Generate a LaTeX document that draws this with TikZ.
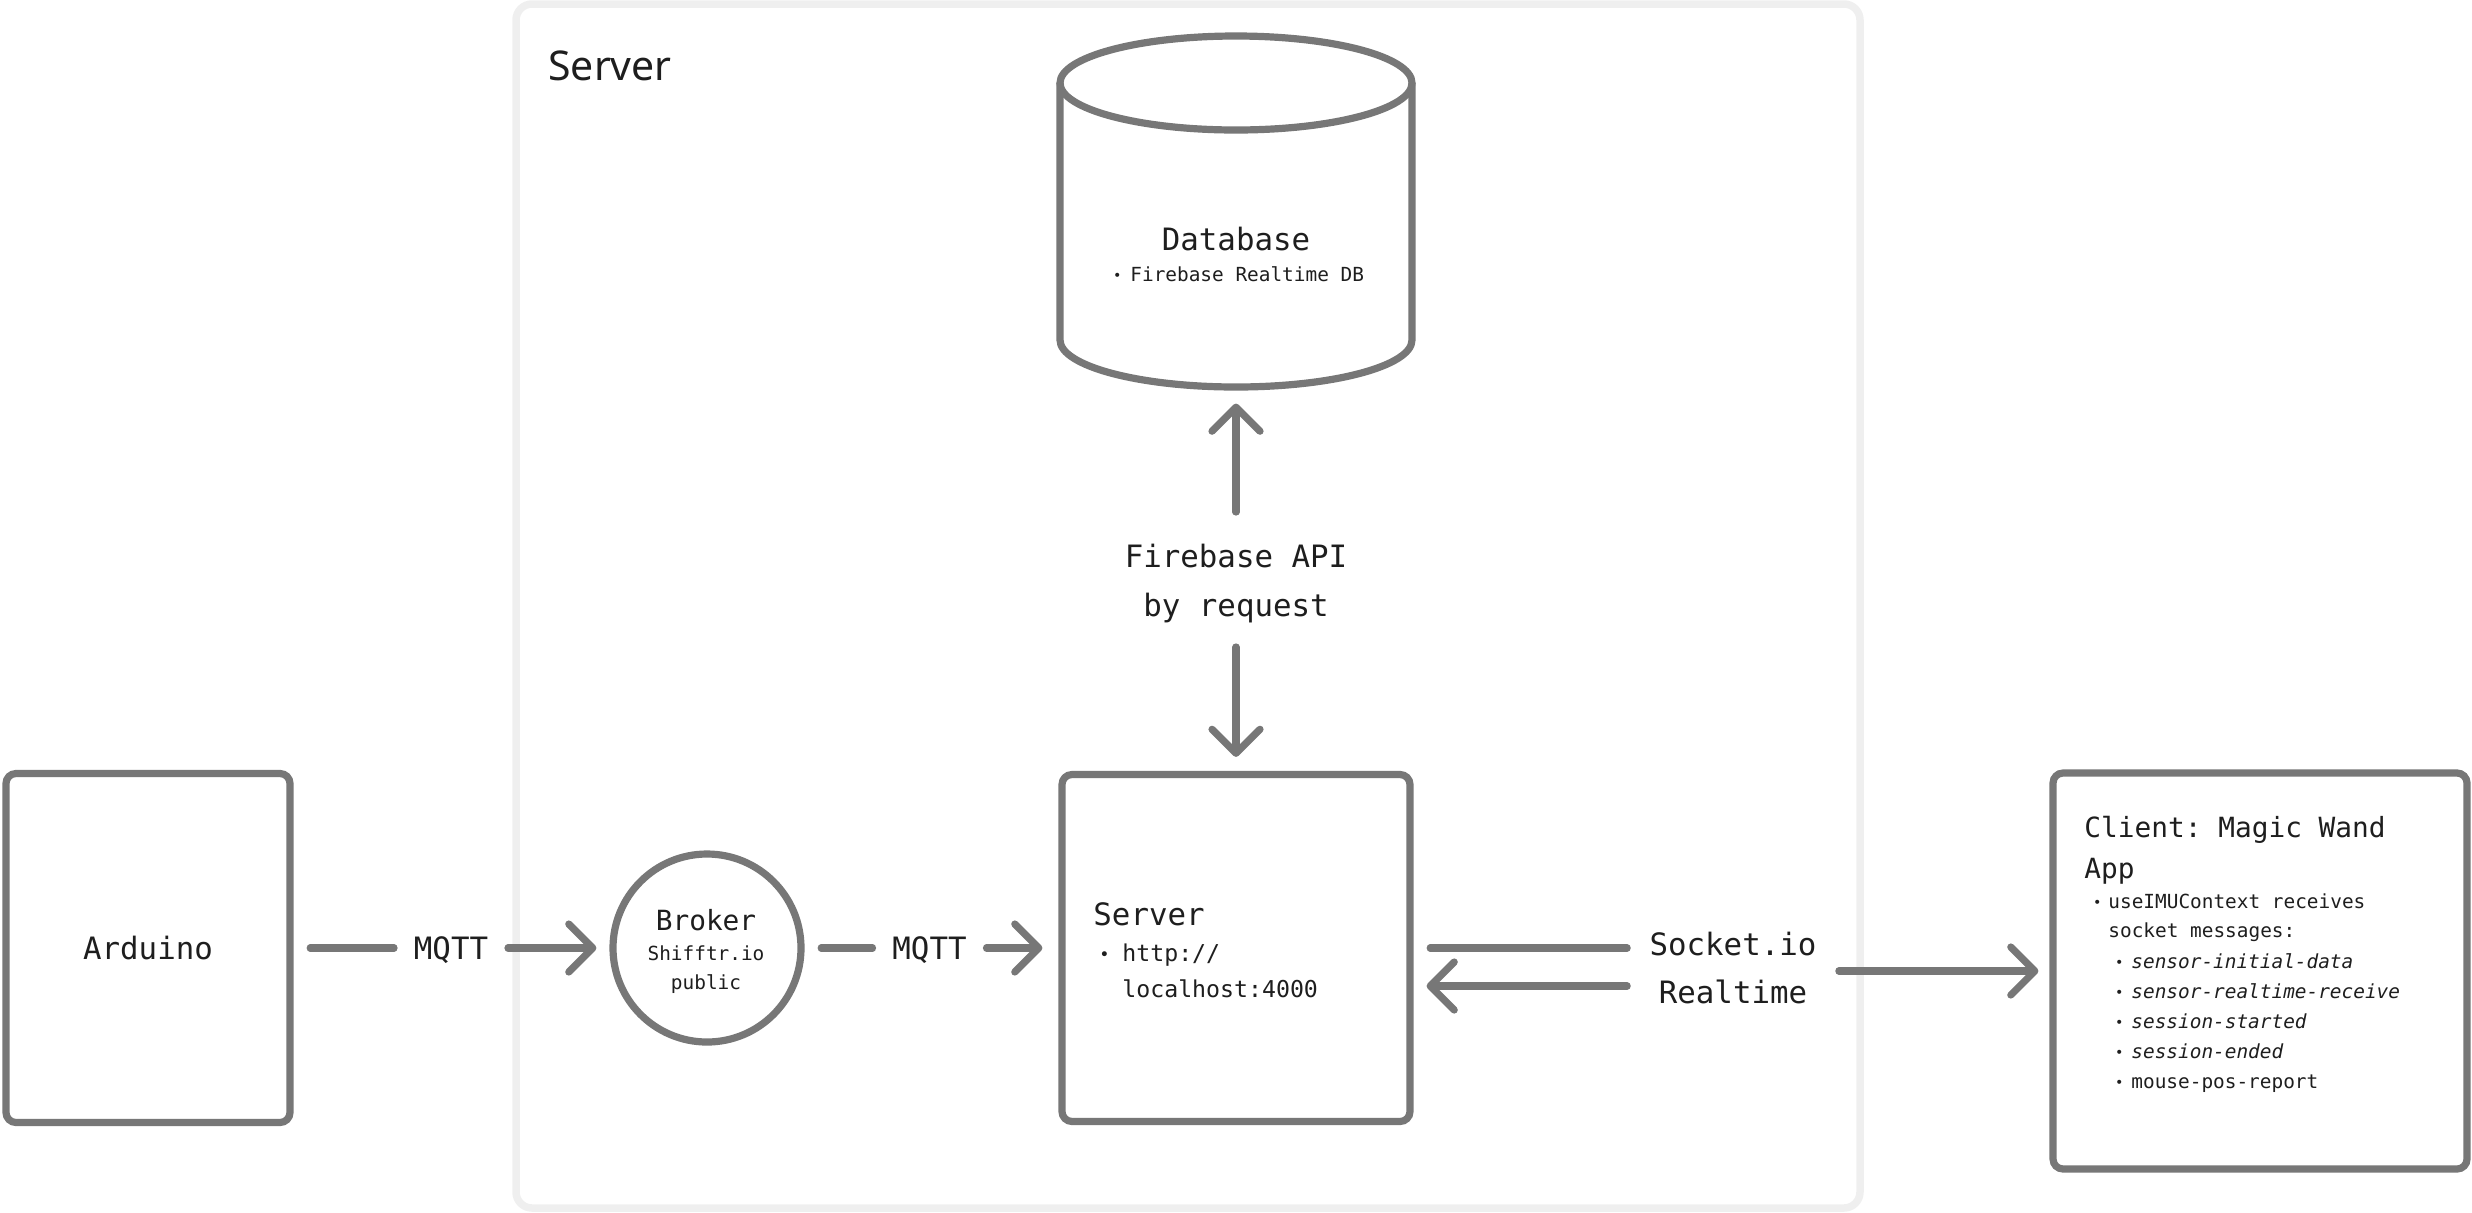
\documentclass[tikz,border=0pt]{standalone}
\usepackage{fontspec}
\setmainfont{Noto Sans}
\setsansfont{Noto Sans}
\setmonofont{DejaVu Sans Mono}[ItalicFont={DejaVu Sans Mono Oblique}]
\usetikzlibrary{arrows.meta}
\definecolor{lineg}{HTML}{777777}
\definecolor{inkc}{HTML}{1E1E1E}
\definecolor{framec}{HTML}{EFEFEF}
\newcommand\fbig{\ttfamily\fontsize{15.4}{18}\selectfont}
\newcommand\fmid{\ttfamily\fontsize{13.9}{16}\selectfont}
\newcommand\fsrv{\ttfamily\fontsize{11.6}{14}\selectfont}
\newcommand\fsm{\ttfamily\fontsize{9.7}{12}\selectfont}
\newcommand\mybul[2][7]{\llap{\raisebox{0.4pt}{\fontsize{#1}{#1}\selectfont •}\kern#2}}
\begin{document}
\begin{tikzpicture}[x=0.5pt,y=-0.5pt,
  boxst/.style={draw=lineg, line width=3.6pt, rounded corners=5pt, inner sep=0pt, fill=white},
  conn/.style={draw=lineg, line width=3.6pt, line cap=round},
  arr/.style={-{Straight Barb[length=12pt,width=24pt,round]}},
  tb/.style={inner sep=0pt, text=inkc},
  lab/.style={font=\fbig, text=inkc, text height=11.2pt, text depth=0pt, inner xsep=9.75pt, inner ysep=0pt}
]
\useasboundingbox (0,0) rectangle (2472,1212);

% server zone frame
\node[draw=framec, line width=3.75pt, rounded corners=8pt, minimum width=672pt, minimum height=602pt, inner sep=0pt, outer sep=0pt] (zone) at (1188,606) {};
\node[tb, anchor=base west, font=\sffamily\fontsize{20.5}{24}\selectfont] (zonelabel) at (548,80) {Server};

% database cylinder
\node[inner sep=0pt, outer sep=1.8pt, minimum width=176pt, minimum height=175.5pt] (db) at (1236,211.5) {};
\draw[draw=lineg, line width=3.6pt, line join=round] (1060,83) -- (1060,340) arc[start angle=180, end angle=360, x radius=88pt, y radius=23.5pt] -- (1412,83);
\draw[draw=lineg, line width=3.6pt] (1236,83) ellipse[x radius=88pt, y radius=23.5pt];
\node[tb, anchor=base] (dbt) at (1236,250) {\fbig Database};
\node[tb, anchor=base west] (dbs) at (1130,281) {\fsm\mybul{4.4pt}Firebase Realtime DB};

% Firebase API label
\node[tb, anchor=base, text height=11.2pt, text depth=0pt] (fb1) at (1236,567) {\fbig Firebase API};
\node[tb, anchor=base, text height=11.2pt, text depth=0pt] (fb2) at (1236,616) {\fbig by request};

% Arduino
\node[boxst, minimum width=142pt, minimum height=174.5pt, font=\fbig, text=inkc] (arduino) at (148,948) {Arduino};

% Broker
\node[draw=lineg, line width=3.6pt, circle, minimum size=94pt, inner sep=0pt, fill=white] (broker) at (707,948) {};
\node[tb, anchor=base] (b1) at (706,930) {\fmid Broker};
\node[tb, anchor=base] (b2) at (706,960) {\fsm Shifftr.io};
\node[tb, anchor=base] (b3) at (706,989) {\fsm public};

% Server box
\node[boxst, minimum width=174pt, minimum height=173.5pt] (server) at (1236,948) {};
\node[tb, anchor=base west] (s1) at (1093,925) {\fbig Server};
\node[tb, anchor=base west] (s2) at (1122,961) {\fsrv\mybul[8.5]{6.4pt}http://};
\node[tb, anchor=base west] (s3) at (1122,997) {\fsrv localhost:4000};

% Client box
\node[boxst, minimum width=207pt, minimum height=198pt] (client) at (2260,971) {};
\node[tb, anchor=base west] (c1) at (2084,837) {\fmid Client: Magic Wand};
\node[tb, anchor=base west] (c2) at (2084,878) {\fmid App};
\node[tb, anchor=base west] (c3) at (2108,908) {\fsm\mybul{3.4pt}useIMUContext receives};
\node[tb, anchor=base west] (c4) at (2108,937) {\fsm socket messages:};
\node[tb, anchor=base west] (c5) at (2131,968) {\fsm\itshape\mybul{3.9pt}sensor-initial-data};
\node[tb, anchor=base west] (c6) at (2131,998) {\fsm\itshape\mybul{3.9pt}sensor-realtime-receive};
\node[tb, anchor=base west] (c7) at (2131,1028) {\fsm\itshape\mybul{3.9pt}session-started};
\node[tb, anchor=base west] (c8) at (2131,1058) {\fsm\itshape\mybul{3.9pt}session-ended};
\node[tb, anchor=base west] (c9) at (2131,1088) {\fsm\mybul{3.9pt}mouse-pos-report};

% MQTT labels
\node[lab] (m1) at (451,948) {MQTT};
\node[lab] (m2) at (929.5,948) {MQTT};

% Socket labels
\node[lab, inner xsep=11pt, anchor=base] (sock1) at (1733,955) {Socket.io};
\node[lab, anchor=base] (sock2) at (1733,1003) {Realtime};

% connectors
\draw[conn, shorten <=8.3pt] (arduino) -- (m1);
\draw[conn, arr, shorten >=6.5pt] (m1) -- (broker);
\draw[conn, shorten <=8.3pt] (broker) -- (m2);
\draw[conn, arr, shorten >=8pt] (m2) -- (server);
\draw[conn, arr, shorten <=16.1pt, shorten >=6.5pt] (fb1) -- (db);
\draw[conn, arr, shorten <=15.3pt, shorten >=7pt] (fb2) -- (server);
\draw[conn, shorten <=8.3pt] (server.east) -- ([yshift=-2.1pt]sock1.west);
\draw[conn, arr, shorten >=6.5pt] ([yshift=-21.1pt]sock1.west) -- ([yshift=-19pt]server.east);
\draw[conn, arr, shorten >=5.5pt] ([yshift=-13.6pt]sock1.east) -- (client.west);
\end{tikzpicture}
\end{document}
